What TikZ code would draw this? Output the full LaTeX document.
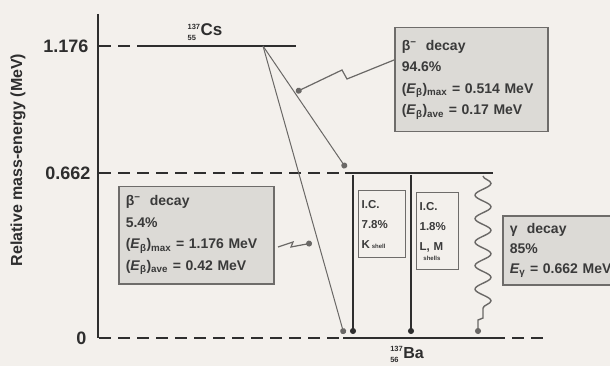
\documentclass[tikz,border=0pt]{standalone}
\usepackage{fontspec}
\setmainfont{Liberation Sans}
\usetikzlibrary{decorations.pathmorphing,arrows.meta}
\definecolor{bg}{HTML}{F3F0EC}
\definecolor{boxfill}{HTML}{DCDAD6}
\definecolor{boxedge}{HTML}{6E6C6A}
\definecolor{lvl}{HTML}{2E2E2E}
\definecolor{arr}{HTML}{6A6866}
\definecolor{txt}{HTML}{3A3A3A}
\newcommand\nuc[3]{\ensuremath{{}^{\hbox{\fontsize{7.5}{7.5}\selectfont #1}}_{\hbox{\fontsize{7.5}{7.5}\selectfont #2}}}\hbox{#3}}
\newcommand\Eb[1]{(\textit{E}\textsubscript{β})\textsubscript{#1}}
\begin{document}
\begin{tikzpicture}[x=1pt,y=-1pt,
  lvlline/.style={lvl,line width=2.2pt},
  dashlvl/.style={lvl,line width=1.6pt,dash pattern=on 12pt off 7pt},
  trans/.style={arr,line width=1pt,-{Circle[length=6pt]}},
  bolt/.style={arr,line width=1.2pt,line join=miter,-{Circle[length=6pt]}},
  infobox/.style={draw=boxedge,line width=1.5pt,fill=boxfill,anchor=north west,
    align=left,inner xsep=7pt,inner ysep=0pt,text=txt,
    font=\fontsize{14}{21.5}\selectfont\bfseries},
  icbox/.style={draw=boxedge,line width=1.3pt,fill=bg,anchor=north west,
    align=left,inner xsep=3pt,inner ysep=0pt,text=txt,
    font=\fontsize{11.5}{20}\selectfont\bfseries},
  ticklab/.style={anchor=east,text=lvl,font=\fontsize{18}{18}\selectfont\bfseries},
  nuclab/.style={text=lvl,font=\fontsize{17}{17}\selectfont\bfseries}
]
\useasboundingbox (0,0) rectangle (610,366);
\clip (0,0) rectangle (610,366);
\fill[bg] (0,0) rectangle (610,366);

% axis
\coordinate (axtop) at (98,14);
\coordinate (axbot) at (98,338);
\draw[lvl,line width=1.8pt] (axtop) -- (axbot);
\node[rotate=90,text=lvl,font=\fontsize{16}{16}\selectfont\bfseries] (ylab) at (18,160) {Relative mass-energy (MeV)};

% tick labels
\node[ticklab] (t1) at (92,46) {1.176};
\node[ticklab] (t2) at (94,173) {0.662};
\node[ticklab] (t0) at (90,338) {0};

% levels
\coordinate (cs0) at (99,46);
\coordinate (cs1) at (143,46);
\coordinate (cs2) at (296,46);
\coordinate (m0) at (99,173);
\coordinate (m1) at (345,173);
\coordinate (m2) at (493,173);
\coordinate (b0) at (99,338);
\coordinate (b1) at (343,338);
\coordinate (b2) at (493,338);
\coordinate (b3) at (545,338);
\draw[dashlvl] (cs0) -- (cs1);
\draw[lvlline] (cs1) -- (cs2);
\draw[dashlvl] (m0) -- (m1);
\draw[lvlline] (m1) -- (m2);
\draw[dashlvl] (b0) -- (b1);
\draw[lvlline] (b1) -- (b2);
\draw[dashlvl] (b2) -- (b3);

\node[nuclab,anchor=base] (cs) at (205,36) {\nuc{137}{55}{Cs}};
\node[nuclab,anchor=base,font=\fontsize{16}{16}\selectfont\bfseries] (ba) at (407,358) {\nuc{137}{56}{Ba}};

% transitions
\coordinate (src) at (263,46);
\coordinate (e1) at (346,168);
\coordinate (e2) at (344,334);
\coordinate (ic1t) at (353,175);
\coordinate (ic1b) at (353,334);
\coordinate (ic2t) at (411,175);
\coordinate (ic2b) at (411,334);
\draw[trans] (src) -- (e1);
\draw[trans] (src) -- (e2);
\draw[trans,lvl,line width=1.1pt] (ic1t) -- (ic1b);
\draw[trans,lvl,line width=1.1pt] (ic2t) -- (ic2b);

% gamma wave
\coordinate (g0) at (483,176);
\coordinate (g1) at (483,318);
\coordinate (gend) at (478,334);
\draw[arr,line width=1.4pt,-{Circle[length=6pt]}]
  (g0) decorate[decoration={snake,amplitude=8pt,segment length=23.5pt}] {-- (g1)} -- (478,320) -- (gend);

% boxes
\node[infobox,minimum width=153pt,minimum height=104pt,text width=139pt] (box1) at (394,27)
  {β\textsuperscript{−}\ \ decay\\94.6\%\\\Eb{max} = 0.514 MeV\\\Eb{ave} = 0.17 MeV};
\node[infobox,minimum width=155pt,minimum height=97pt,text width=141pt] (box2) at (118,186)
  {β\textsuperscript{−}\ \ decay\\5.4\%\\\Eb{max} = 1.176 MeV\\\Eb{ave} = 0.42 MeV};
\node[icbox,minimum width=47pt,minimum height=67pt,text width=41pt] (ic1) at (358,190)
  {I.C.\\7.8\%\\K\,{\fontsize{6}{6}\selectfont shell}};
\node[icbox,minimum width=42pt,minimum height=77pt,text width=36pt] (ic2) at (416,192)
  {I.C.\\1.8\%\\L, M\\[-10pt]{\fontsize{6}{6}\selectfont\ shells}};
\node[infobox,minimum width=120pt,minimum height=69pt,text width=106pt,inner xsep=5pt,font=\fontsize{14}{20}\selectfont\bfseries] (box3) at (502,215)
  {γ\ \ decay\\85\%\\\textit{E}\textsubscript{γ} = 0.662 MeV};

% lightning connectors
\coordinate (l1a) at (347,79);
\coordinate (l1b) at (342,70);
\coordinate (l1e) at (296,92);
\draw[bolt] (box1.west |- 0,60) -- (l1a) -- (l1b) -- (l1e);
\coordinate (l2s) at (278,247);
\coordinate (l2a) at (293,242);
\coordinate (l2b) at (291,247);
\coordinate (l2e) at (312,243);
\draw[bolt] (l2s) -- (l2a) -- (l2b) -- (l2e);
\end{tikzpicture}
\end{document}
